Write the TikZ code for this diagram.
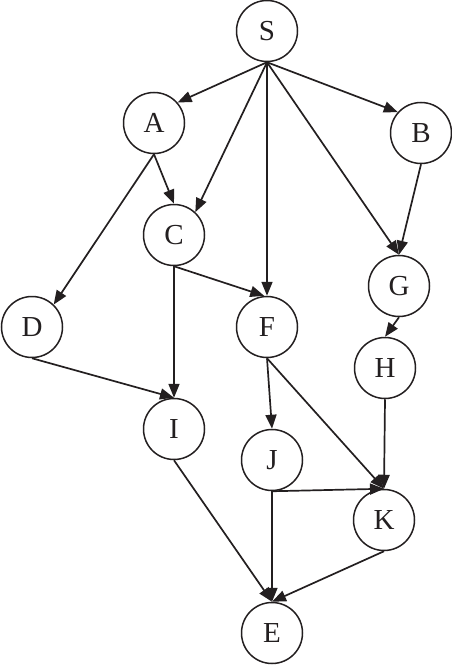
\documentclass[tikz,border=0pt]{standalone}
\usepackage{fontspec}
\setmainfont{Liberation Serif}
\usetikzlibrary{arrows.meta}
\definecolor{ink}{HTML}{231F20}
\begin{document}
\begin{tikzpicture}[x=1pt,y=-1pt,
  vtx/.style={circle,draw=ink,line width=1.5pt,minimum size=61pt,inner sep=0pt,
    font=\fontsize{29}{30}\selectfont,text=ink},
  edge/.style={draw=ink,line width=1.7pt,-{Triangle[length=14pt,width=11pt]}}]
\useasboundingbox (0,0) rectangle (452,666);
\node[vtx] (S) at (267,31) {S};
\node[vtx] (A) at (154,123) {A};
\node[vtx] (B) at (421,133) {B};
\node[vtx] (C) at (174,235) {C};
\node[vtx] (G) at (399,286) {G};
\node[vtx] (D) at (32,327) {D};
\node[vtx] (F) at (267,327) {F};
\node[vtx] (H) at (385,368) {H};
\node[vtx] (I) at (174,429) {I};
\node[vtx] (J) at (272,460) {J};
\node[vtx] (K) at (384,520) {K};
\node[vtx] (E) at (272,633) {E};
\draw[edge] (S.south) -- (A.41);
\draw[edge] (S.south) -- (C.47);
\draw[edge] (S.south) -- (F.north);
\draw[edge] (S.south) -- (G.north);
\draw[edge] (S.south) -- (B.138);
\draw[edge] (A.south) -- (C.north);
\draw[edge] (A.south) -- (D.46);
\draw[edge] (B.south) -- (G.north);
\draw[edge] (C.south) -- (F.95);
\draw[edge] (C.south) -- (I.north);
\draw[edge] (D.south) -- (I.north);
\draw[edge] (G.south) -- (H.north);
\draw[edge] (F.south) -- (J.north);
\draw[edge] (F.south) -- (K.north);
\draw[edge] (H.south) -- (K.north);
\draw[edge] (J.south) -- (K.north);
\draw[edge] (I.south) -- (E.north);
\draw[edge] (J.south) -- (E.north);
\draw[edge] (K.south) -- (E.north);
\end{tikzpicture}
\end{document}
